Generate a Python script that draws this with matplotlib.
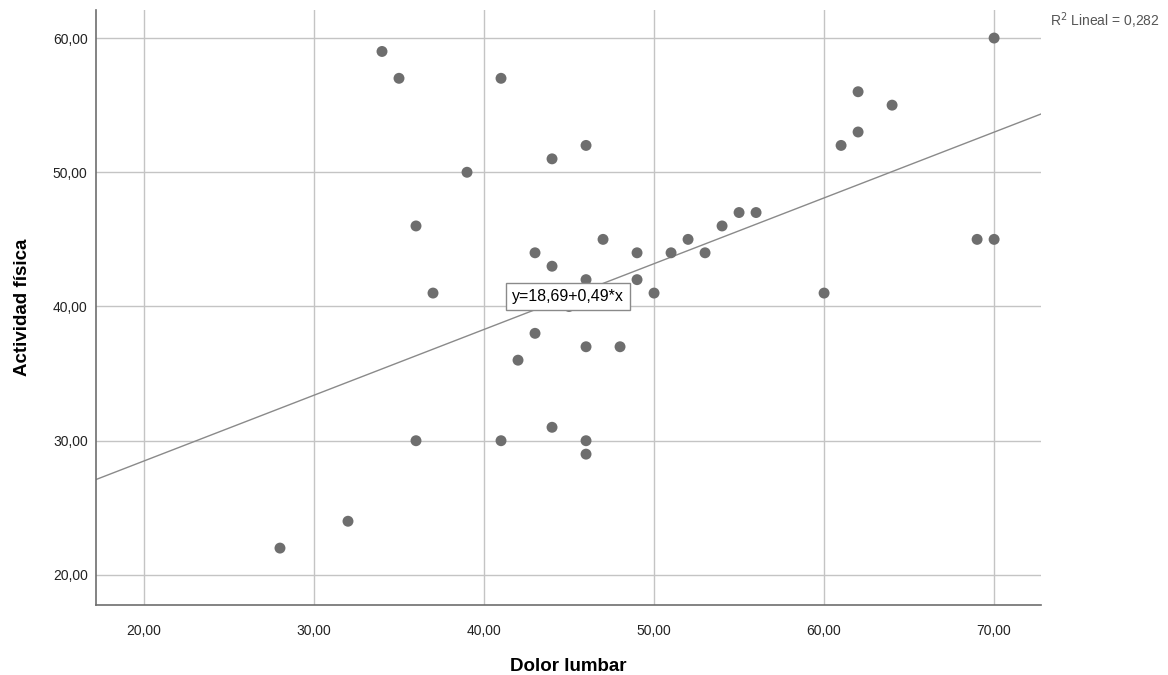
import matplotlib
matplotlib.use("Agg")
import matplotlib.pyplot as plt
from matplotlib.ticker import FuncFormatter

plt.rcParams['font.family'] = ['Liberation Sans', 'DejaVu Sans']

# data
dolor = [28, 32, 34, 35, 36, 36, 37, 39, 41, 41, 42, 43, 43, 44, 44, 44, 45,
         46, 46, 46, 46, 46, 47, 48, 49, 49, 50, 51, 52, 53, 54, 55, 56,
         60, 61, 62, 62, 64, 69, 70, 70]
actividad = [22, 24, 59, 57, 46, 30, 41, 50, 57, 30, 36, 44, 38, 51, 43, 31, 40,
             52, 42, 37, 30, 29, 45, 37, 44, 42, 41, 44, 45, 44, 46, 47, 47,
             41, 52, 56, 53, 55, 45, 45, 60]
intercept = 18.69
slope = 0.49
r2 = 0.282
xticks = [20, 30, 40, 50, 60, 70]
yticks = [20, 30, 40, 50, 60]


def comma_fmt(v, pos):
  return ("%.2f" % v).replace('.', ',')


fig = plt.figure(figsize=(11.68, 6.75), dpi=100)
ax = fig.add_axes([0.0822, 0.1037, 0.8091, 0.8815])

xmin, xmax = 17.18, 72.76
ax.set_xlim(xmin, xmax)
ax.set_ylim(17.76, 62.09)

ax.grid(True, color='#c4c4c4', linewidth=1.0)
ax.set_axisbelow(True)
ax.set_xticks(xticks)
ax.set_yticks(yticks)
ax.xaxis.set_major_formatter(FuncFormatter(comma_fmt))
ax.yaxis.set_major_formatter(FuncFormatter(comma_fmt))
ax.tick_params(length=0, labelsize=10, colors='#222222')
ax.tick_params(axis='x', pad=14)
ax.tick_params(axis='y', pad=6)

for s in ['top', 'right']:
  ax.spines[s].set_visible(False)
for s in ['left', 'bottom']:
  ax.spines[s].set_color('#6e6e6e')
  ax.spines[s].set_linewidth(1.2)

# fit line
ax.plot([xmin, xmax], [intercept + slope * xmin, intercept + slope * xmax],
        color='#8a8a8a', linewidth=1.0, zorder=2)

ax.scatter(dolor, actividad, s=62, color='#6e6e6e', edgecolors='none', zorder=3)

eq = "y=%s+%s*x" % (comma_fmt(intercept, 0), comma_fmt(slope, 0))
ax.text(44.94, 40.74, eq, fontsize=11.5, ha='center', va='center', zorder=4,
        bbox=dict(boxstyle='square,pad=0.4', facecolor='white', edgecolor='#8a8a8a', linewidth=1))

ax.set_xlabel('Dolor lumbar', fontsize=13.5, fontweight='bold', labelpad=14)
ax.set_ylabel('Actividad física', fontsize=13.5, fontweight='bold', labelpad=16)

fig.text(0.9931, 0.962, "R$^2$ Lineal = %s" % ("%.3f" % r2).replace('.', ','),
         fontsize=10, color='#555555', ha='right', va='baseline')

plt.savefig('out.png', dpi=100)
